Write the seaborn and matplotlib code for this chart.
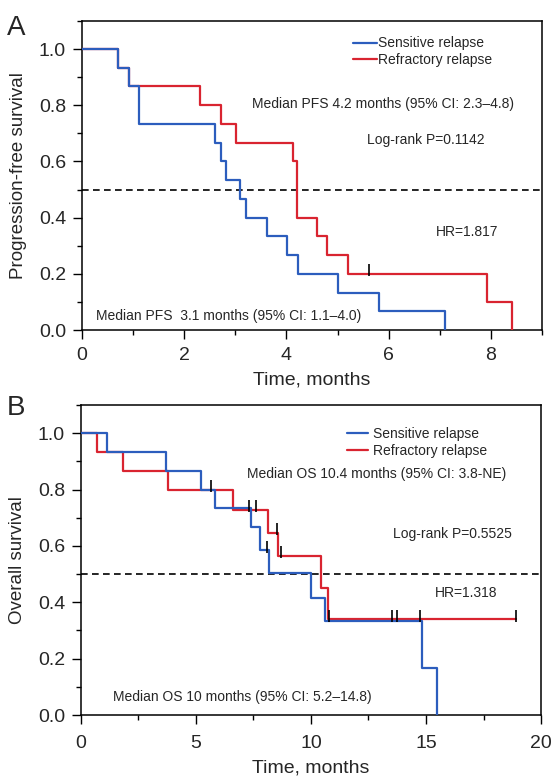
import numpy as np
import matplotlib.pyplot as plt
import seaborn as sns
from matplotlib.ticker import MultipleLocator

# --- Panel A: progression-free survival (step points) ---
pfs_sens_t = [0, 0.71, 0.91, 1.12, 2.60, 2.71, 2.81, 3.10, 3.20, 3.62, 4.02, 4.23, 5.00, 5.82, 7.11]
pfs_sens_s = [1.0, 0.933, 0.867, 0.733, 0.667, 0.600, 0.533, 0.467, 0.400, 0.333, 0.267, 0.200, 0.133, 0.067, 0.0]
pfs_refr_t = [0, 0.71, 0.91, 2.30, 2.71, 3.01, 4.12, 4.21, 4.60, 4.80, 5.21, 7.92, 8.42]
pfs_refr_s = [1.0, 0.933, 0.867, 0.800, 0.733, 0.667, 0.600, 0.400, 0.333, 0.267, 0.200, 0.100, 0.0]
pfs_cens_t = [5.62]
pfs_cens_s = [0.200]

# --- Panel B: overall survival ---
os_sens_t = [0, 1.12, 3.71, 5.23, 5.83, 7.39, 7.80, 8.19, 10.00, 10.61, 14.81, 15.50]
os_sens_s = [1.0, 0.933, 0.867, 0.800, 0.733, 0.667, 0.586, 0.503, 0.417, 0.334, 0.166, 0.0]
os_refr_t = [0, 0.68, 1.81, 3.80, 6.61, 8.14, 8.55, 10.43, 10.72, 18.91]
os_refr_s = [1.0, 0.933, 0.867, 0.800, 0.728, 0.647, 0.566, 0.452, 0.340, 0.340]
os_cens_t = [5.64, 7.30, 7.59, 8.10, 8.51, 8.71, 10.80, 13.53, 13.73, 14.74, 18.91]
os_cens_s = [0.800, 0.728, 0.728, 0.586, 0.647, 0.566, 0.340, 0.340, 0.340, 0.340, 0.340]

labels = ['Sensitive relapse', 'Refractory relapse']
blue = '#2c5dbd'
red = '#d92430'

sns.set_style('ticks')
plt.rcParams['font.family'] = ['Liberation Sans', 'DejaVu Sans']

fig = plt.figure(figsize=(5.59, 7.8), dpi=100)
axA = fig.add_axes([0.1467, 0.5769, 0.8229, 0.3962])
axB = fig.add_axes([0.1449, 0.0833, 0.8229, 0.3974])


def km_panel(ax, st, ss, rt, rs, ct, cs, xmax, xmajor, xminor, ylabel, xpad):
    sns.lineplot(x=rt, y=rs, drawstyle='steps-post', estimator=None, sort=False,
                 color=red, lw=1.6, label=labels[1], ax=ax, zorder=3)
    sns.lineplot(x=st, y=ss, drawstyle='steps-post', estimator=None, sort=False,
                 color=blue, lw=1.6, label=labels[0], ax=ax, zorder=4)
    # censor marks
    ax.plot(ct, np.array(cs) + 0.012, linestyle='none', marker='|', ms=9,
            mew=1.2, color='black', zorder=5)
    ax.axhline(0.5, color='black', lw=1.2, ls=(0, (4, 2.6)), zorder=2)
    ax.set_xlim(0, xmax)
    ax.set_ylim(0, 1.1)
    ax.xaxis.set_major_locator(MultipleLocator(xmajor))
    ax.xaxis.set_minor_locator(MultipleLocator(xminor))
    ax.yaxis.set_major_locator(MultipleLocator(0.2))
    ax.yaxis.set_minor_locator(MultipleLocator(0.1))
    ax.yaxis.set_major_formatter(plt.FormatStrFormatter('%.1f'))
    ax.tick_params(which='major', length=6.5, width=1, labelsize=14, color='black')
    ax.tick_params(axis='x', which='major', pad=xpad)
    ax.tick_params(axis='y', which='major', pad=5)
    ax.tick_params(which='minor', length=3.5, width=1, color='black')
    for sp in ax.spines.values():
        sp.set_color('black')
        sp.set_linewidth(1.1)
    ax.set_xlabel('Time, months', fontsize=14, labelpad=5)
    ax.set_ylabel(ylabel, fontsize=13.5)
    ax.yaxis.set_label_coords(-0.12, 0.5)


km_panel(axA, pfs_sens_t, pfs_sens_s, pfs_refr_t, pfs_refr_s, pfs_cens_t, pfs_cens_s,
         9, 2, 1, 'Progression-free survival', 6)
km_panel(axB, os_sens_t, os_sens_s, os_refr_t, os_refr_s, os_cens_t, os_cens_s,
         20, 5, 2.5, 'Overall survival', 8)

# legends
handles, lbls = axA.get_legend_handles_labels()
order = [lbls.index(l) for l in labels]
axA.legend([handles[i] for i in order], labels, loc='upper left', bbox_to_anchor=(0.589, 0.95),
           frameon=False, fontsize=10, handlelength=1.7, handletextpad=0.1,
           labelspacing=0.2, borderpad=0, borderaxespad=0)
handles, lbls = axB.get_legend_handles_labels()
order = [lbls.index(l) for l in labels]
axB.legend([handles[i] for i in order], labels, loc='upper left', bbox_to_anchor=(0.578, 0.93),
           frameon=False, fontsize=10, handlelength=1.5, handletextpad=0.4,
           labelspacing=0.2, borderpad=0, borderaxespad=0)

# annotations
txt = dict(fontsize=10, va='center', ha='left')
axA.text(3.32, 0.805, 'Median PFS 4.2 months (95% CI: 2.3\u20134.8)', **txt)
axA.text(5.57, 0.676, 'Log-rank P=0.1142', **txt)
axA.text(6.92, 0.35, 'HR=1.817', **txt)
axA.text(0.27, 0.051, 'Median PFS  3.1 months (95% CI: 1.1\u20134.0)', **txt)

axB.text(7.2, 0.855, 'Median OS 10.4 months (95% CI: 3.8-NE)', **txt)
axB.text(13.58, 0.641, 'Log-rank P=0.5525', **txt)
axB.text(15.39, 0.432, 'HR=1.318', **txt)
axB.text(1.4, 0.065, 'Median OS 10 months (95% CI: 5.2\u201314.8)', **txt)

fig.text(0.012, 1 - 35 / 780, 'A', fontsize=20, va='baseline')
fig.text(0.012, 1 - 415 / 780, 'B', fontsize=20, va='baseline')

fig.savefig('out.png', dpi=100)
